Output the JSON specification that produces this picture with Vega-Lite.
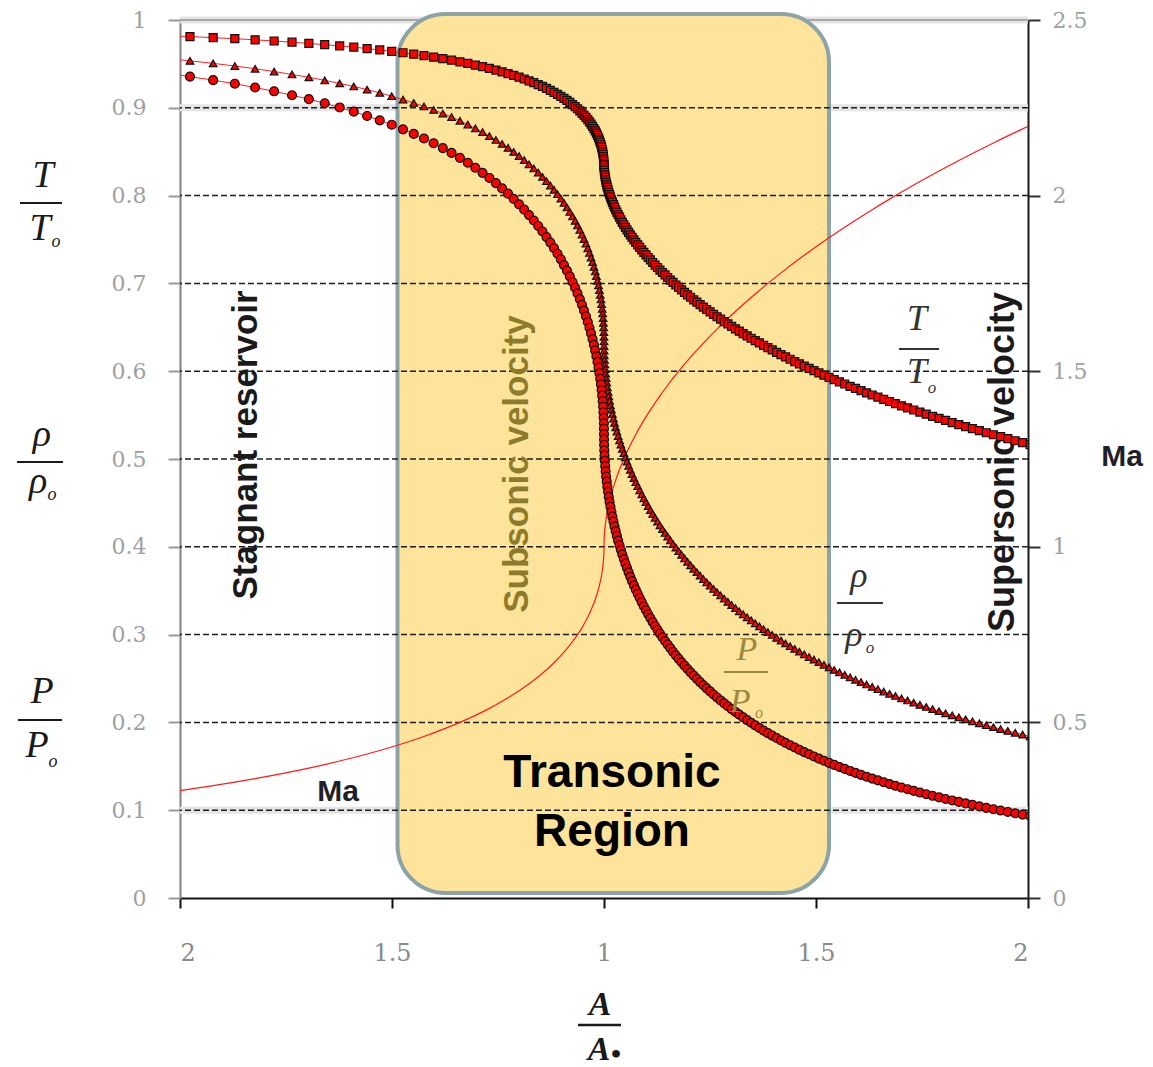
{
  "$schema": "https://vega.github.io/schema/vega-lite/v6.json",
  "width": 848,
  "height": 878,
  "autosize": "none",
  "padding": {"left": 180, "top": 20, "right": 125, "bottom": 169},
  "background": "#ffffff",
  "config": {"view": {"stroke": null}},
  "datasets": {
    "flow": [
      {"M":0.30,"x":-0.0351,"T":0.9823,"r":0.9564,"p":0.9395},
      {"M":0.31,"x":0.0235,"T":0.9811,"r":0.9535,"p":0.9355},
      {"M":0.32,"x":0.0782,"T":0.9799,"r":0.9506,"p":0.9315},
      {"M":0.33,"x":0.1293,"T":0.9787,"r":0.9476,"p":0.9274},
      {"M":0.34,"x":0.1771,"T":0.9774,"r":0.9445,"p":0.9231},
      {"M":0.35,"x":0.2220,"T":0.9761,"r":0.9413,"p":0.9188},
      {"M":0.36,"x":0.2642,"T":0.9747,"r":0.9380,"p":0.9143},
      {"M":0.37,"x":0.3039,"T":0.9733,"r":0.9347,"p":0.9098},
      {"M":0.38,"x":0.3413,"T":0.9719,"r":0.9313,"p":0.9052},
      {"M":0.39,"x":0.3766,"T":0.9705,"r":0.9278,"p":0.9004},
      {"M":0.40,"x":0.4099,"T":0.9690,"r":0.9243,"p":0.8956},
      {"M":0.41,"x":0.4413,"T":0.9675,"r":0.9207,"p":0.8907},
      {"M":0.42,"x":0.4711,"T":0.9659,"r":0.9170,"p":0.8857},
      {"M":0.43,"x":0.4993,"T":0.9643,"r":0.9132,"p":0.8807},
      {"M":0.44,"x":0.5260,"T":0.9627,"r":0.9094,"p":0.8755},
      {"M":0.45,"x":0.5513,"T":0.9611,"r":0.9055,"p":0.8703},
      {"M":0.46,"x":0.5754,"T":0.9594,"r":0.9016,"p":0.8650},
      {"M":0.47,"x":0.5982,"T":0.9577,"r":0.8976,"p":0.8596},
      {"M":0.48,"x":0.6199,"T":0.9560,"r":0.8935,"p":0.8541},
      {"M":0.49,"x":0.6405,"T":0.9542,"r":0.8894,"p":0.8486},
      {"M":0.50,"x":0.6602,"T":0.9524,"r":0.8852,"p":0.8430},
      {"M":0.51,"x":0.6788,"T":0.9506,"r":0.8809,"p":0.8374},
      {"M":0.52,"x":0.6966,"T":0.9487,"r":0.8766,"p":0.8317},
      {"M":0.53,"x":0.7136,"T":0.9468,"r":0.8723,"p":0.8259},
      {"M":0.54,"x":0.7297,"T":0.9449,"r":0.8679,"p":0.8201},
      {"M":0.55,"x":0.7451,"T":0.9430,"r":0.8634,"p":0.8142},
      {"M":0.56,"x":0.7597,"T":0.9410,"r":0.8589,"p":0.8082},
      {"M":0.57,"x":0.7737,"T":0.9390,"r":0.8544,"p":0.8022},
      {"M":0.58,"x":0.7870,"T":0.9370,"r":0.8498,"p":0.7962},
      {"M":0.59,"x":0.7997,"T":0.9349,"r":0.8451,"p":0.7901},
      {"M":0.60,"x":0.8118,"T":0.9328,"r":0.8405,"p":0.7840},
      {"M":0.61,"x":0.8233,"T":0.9307,"r":0.8357,"p":0.7778},
      {"M":0.62,"x":0.8344,"T":0.9286,"r":0.8310,"p":0.7716},
      {"M":0.63,"x":0.8449,"T":0.9265,"r":0.8262,"p":0.7654},
      {"M":0.64,"x":0.8549,"T":0.9243,"r":0.8213,"p":0.7591},
      {"M":0.65,"x":0.8644,"T":0.9221,"r":0.8164,"p":0.7528},
      {"M":0.66,"x":0.8735,"T":0.9199,"r":0.8115,"p":0.7465},
      {"M":0.67,"x":0.8821,"T":0.9176,"r":0.8066,"p":0.7401},
      {"M":0.68,"x":0.8904,"T":0.9153,"r":0.8016,"p":0.7338},
      {"M":0.69,"x":0.8982,"T":0.9131,"r":0.7966,"p":0.7274},
      {"M":0.70,"x":0.9056,"T":0.9107,"r":0.7916,"p":0.7209},
      {"M":0.71,"x":0.9127,"T":0.9084,"r":0.7865,"p":0.7145},
      {"M":0.72,"x":0.9194,"T":0.9061,"r":0.7814,"p":0.7080},
      {"M":0.73,"x":0.9258,"T":0.9037,"r":0.7763,"p":0.7016},
      {"M":0.74,"x":0.9319,"T":0.9013,"r":0.7712,"p":0.6951},
      {"M":0.75,"x":0.9376,"T":0.8989,"r":0.7660,"p":0.6886},
      {"M":0.76,"x":0.9430,"T":0.8964,"r":0.7609,"p":0.6821},
      {"M":0.77,"x":0.9481,"T":0.8940,"r":0.7557,"p":0.6756},
      {"M":0.78,"x":0.9529,"T":0.8915,"r":0.7505,"p":0.6690},
      {"M":0.79,"x":0.9575,"T":0.8890,"r":0.7452,"p":0.6625},
      {"M":0.80,"x":0.9618,"T":0.8865,"r":0.7400,"p":0.6560},
      {"M":0.81,"x":0.9658,"T":0.8840,"r":0.7347,"p":0.6495},
      {"M":0.82,"x":0.9695,"T":0.8815,"r":0.7295,"p":0.6430},
      {"M":0.83,"x":0.9730,"T":0.8789,"r":0.7242,"p":0.6365},
      {"M":0.84,"x":0.9763,"T":0.8763,"r":0.7189,"p":0.6300},
      {"M":0.85,"x":0.9793,"T":0.8737,"r":0.7136,"p":0.6235},
      {"M":0.86,"x":0.9821,"T":0.8711,"r":0.7083,"p":0.6170},
      {"M":0.87,"x":0.9847,"T":0.8685,"r":0.7030,"p":0.6106},
      {"M":0.88,"x":0.9871,"T":0.8659,"r":0.6977,"p":0.6041},
      {"M":0.89,"x":0.9892,"T":0.8632,"r":0.6924,"p":0.5977},
      {"M":0.90,"x":0.9911,"T":0.8606,"r":0.6870,"p":0.5913},
      {"M":0.91,"x":0.9929,"T":0.8579,"r":0.6817,"p":0.5849},
      {"M":0.92,"x":0.9944,"T":0.8552,"r":0.6764,"p":0.5785},
      {"M":0.93,"x":0.9957,"T":0.8525,"r":0.6711,"p":0.5721},
      {"M":0.94,"x":0.9969,"T":0.8498,"r":0.6658,"p":0.5658},
      {"M":0.95,"x":0.9979,"T":0.8471,"r":0.6604,"p":0.5595},
      {"M":0.96,"x":0.9986,"T":0.8444,"r":0.6551,"p":0.5532},
      {"M":0.97,"x":0.9992,"T":0.8416,"r":0.6498,"p":0.5469},
      {"M":0.98,"x":0.9997,"T":0.8389,"r":0.6445,"p":0.5407},
      {"M":0.99,"x":0.9999,"T":0.8361,"r":0.6392,"p":0.5345},
      {"M":1.00,"x":1.0000,"T":0.8333,"r":0.6339,"p":0.5283},
      {"M":1.01,"x":1.0001,"T":0.8346,"r":0.6287,"p":0.5221},
      {"M":1.02,"x":1.0003,"T":0.8319,"r":0.6234,"p":0.5160},
      {"M":1.03,"x":1.0007,"T":0.8291,"r":0.6181,"p":0.5099},
      {"M":1.04,"x":1.0013,"T":0.8263,"r":0.6129,"p":0.5039},
      {"M":1.05,"x":1.0020,"T":0.8235,"r":0.6077,"p":0.4979},
      {"M":1.06,"x":1.0029,"T":0.8207,"r":0.6024,"p":0.4919},
      {"M":1.07,"x":1.0039,"T":0.8179,"r":0.5972,"p":0.4860},
      {"M":1.08,"x":1.0051,"T":0.8151,"r":0.5920,"p":0.4800},
      {"M":1.09,"x":1.0065,"T":0.8123,"r":0.5869,"p":0.4742},
      {"M":1.10,"x":1.0079,"T":0.8096,"r":0.5817,"p":0.4684},
      {"M":1.11,"x":1.0096,"T":0.8067,"r":0.5766,"p":0.4626},
      {"M":1.12,"x":1.0113,"T":0.8038,"r":0.5714,"p":0.4568},
      {"M":1.13,"x":1.0132,"T":0.8011,"r":0.5663,"p":0.4511},
      {"M":1.14,"x":1.0153,"T":0.7982,"r":0.5612,"p":0.4455},
      {"M":1.15,"x":1.0175,"T":0.7953,"r":0.5562,"p":0.4398},
      {"M":1.16,"x":1.0198,"T":0.7925,"r":0.5511,"p":0.4343},
      {"M":1.17,"x":1.0223,"T":0.7897,"r":0.5461,"p":0.4287},
      {"M":1.18,"x":1.0248,"T":0.7868,"r":0.5411,"p":0.4232},
      {"M":1.19,"x":1.0276,"T":0.7840,"r":0.5361,"p":0.4178},
      {"M":1.20,"x":1.0304,"T":0.7811,"r":0.5311,"p":0.4124},
      {"M":1.21,"x":1.0334,"T":0.7782,"r":0.5262,"p":0.4070},
      {"M":1.22,"x":1.0366,"T":0.7754,"r":0.5213,"p":0.4017},
      {"M":1.23,"x":1.0398,"T":0.7725,"r":0.5164,"p":0.3965},
      {"M":1.24,"x":1.0432,"T":0.7696,"r":0.5115,"p":0.3912},
      {"M":1.25,"x":1.0468,"T":0.7668,"r":0.5067,"p":0.3861},
      {"M":1.26,"x":1.0504,"T":0.7639,"r":0.5019,"p":0.3809},
      {"M":1.27,"x":1.0542,"T":0.7610,"r":0.4971,"p":0.3759},
      {"M":1.28,"x":1.0581,"T":0.7582,"r":0.4923,"p":0.3708},
      {"M":1.29,"x":1.0621,"T":0.7553,"r":0.4876,"p":0.3658},
      {"M":1.30,"x":1.0663,"T":0.7525,"r":0.4829,"p":0.3609},
      {"M":1.31,"x":1.0706,"T":0.7496,"r":0.4782,"p":0.3560},
      {"M":1.32,"x":1.0750,"T":0.7467,"r":0.4736,"p":0.3512},
      {"M":1.33,"x":1.0796,"T":0.7439,"r":0.4690,"p":0.3464},
      {"M":1.34,"x":1.0843,"T":0.7410,"r":0.4644,"p":0.3417},
      {"M":1.35,"x":1.0890,"T":0.7381,"r":0.4598,"p":0.3370},
      {"M":1.36,"x":1.0940,"T":0.7353,"r":0.4553,"p":0.3323},
      {"M":1.37,"x":1.0990,"T":0.7324,"r":0.4508,"p":0.3277},
      {"M":1.38,"x":1.1042,"T":0.7295,"r":0.4463,"p":0.3232},
      {"M":1.39,"x":1.1095,"T":0.7267,"r":0.4418,"p":0.3187},
      {"M":1.40,"x":1.1149,"T":0.7238,"r":0.4374,"p":0.3142},
      {"M":1.41,"x":1.1205,"T":0.7209,"r":0.4330,"p":0.3098},
      {"M":1.42,"x":1.1262,"T":0.7181,"r":0.4287,"p":0.3055},
      {"M":1.43,"x":1.1320,"T":0.7152,"r":0.4244,"p":0.3012},
      {"M":1.44,"x":1.1379,"T":0.7124,"r":0.4201,"p":0.2969},
      {"M":1.45,"x":1.1440,"T":0.7096,"r":0.4158,"p":0.2927},
      {"M":1.46,"x":1.1502,"T":0.7067,"r":0.4116,"p":0.2886},
      {"M":1.47,"x":1.1565,"T":0.7038,"r":0.4074,"p":0.2845},
      {"M":1.48,"x":1.1629,"T":0.7011,"r":0.4032,"p":0.2804},
      {"M":1.49,"x":1.1695,"T":0.6982,"r":0.3991,"p":0.2764},
      {"M":1.50,"x":1.1762,"T":0.6955,"r":0.3950,"p":0.2724},
      {"M":1.51,"x":1.1830,"T":0.6926,"r":0.3909,"p":0.2685},
      {"M":1.52,"x":1.1899,"T":0.6898,"r":0.3869,"p":0.2646},
      {"M":1.53,"x":1.1970,"T":0.6870,"r":0.3829,"p":0.2608},
      {"M":1.54,"x":1.2042,"T":0.6842,"r":0.3789,"p":0.2570},
      {"M":1.55,"x":1.2116,"T":0.6813,"r":0.3750,"p":0.2533},
      {"M":1.56,"x":1.2191,"T":0.6786,"r":0.3711,"p":0.2496},
      {"M":1.57,"x":1.2267,"T":0.6758,"r":0.3672,"p":0.2459},
      {"M":1.58,"x":1.2344,"T":0.6730,"r":0.3633,"p":0.2423},
      {"M":1.59,"x":1.2422,"T":0.6703,"r":0.3595,"p":0.2388},
      {"M":1.60,"x":1.2502,"T":0.6675,"r":0.3557,"p":0.2353},
      {"M":1.61,"x":1.2584,"T":0.6647,"r":0.3520,"p":0.2318},
      {"M":1.62,"x":1.2666,"T":0.6620,"r":0.3483,"p":0.2284},
      {"M":1.63,"x":1.2750,"T":0.6592,"r":0.3446,"p":0.2250},
      {"M":1.64,"x":1.2836,"T":0.6564,"r":0.3409,"p":0.2217},
      {"M":1.65,"x":1.2922,"T":0.6538,"r":0.3373,"p":0.2184},
      {"M":1.66,"x":1.3010,"T":0.6510,"r":0.3337,"p":0.2152},
      {"M":1.67,"x":1.3100,"T":0.6482,"r":0.3302,"p":0.2119},
      {"M":1.68,"x":1.3190,"T":0.6456,"r":0.3266,"p":0.2088},
      {"M":1.69,"x":1.3283,"T":0.6428,"r":0.3232,"p":0.2057},
      {"M":1.70,"x":1.3376,"T":0.6402,"r":0.3197,"p":0.2026},
      {"M":1.71,"x":1.3471,"T":0.6375,"r":0.3163,"p":0.1996},
      {"M":1.72,"x":1.3567,"T":0.6348,"r":0.3129,"p":0.1966},
      {"M":1.73,"x":1.3665,"T":0.6322,"r":0.3095,"p":0.1936},
      {"M":1.74,"x":1.3764,"T":0.6295,"r":0.3062,"p":0.1907},
      {"M":1.75,"x":1.3865,"T":0.6268,"r":0.3029,"p":0.1878},
      {"M":1.76,"x":1.3967,"T":0.6242,"r":0.2996,"p":0.1850},
      {"M":1.77,"x":1.4071,"T":0.6215,"r":0.2964,"p":0.1822},
      {"M":1.78,"x":1.4175,"T":0.6188,"r":0.2932,"p":0.1794},
      {"M":1.79,"x":1.4282,"T":0.6163,"r":0.2900,"p":0.1767},
      {"M":1.80,"x":1.4390,"T":0.6136,"r":0.2868,"p":0.1740},
      {"M":1.81,"x":1.4499,"T":0.6109,"r":0.2837,"p":0.1714},
      {"M":1.82,"x":1.4610,"T":0.6084,"r":0.2806,"p":0.1688},
      {"M":1.83,"x":1.4723,"T":0.6058,"r":0.2776,"p":0.1662},
      {"M":1.84,"x":1.4837,"T":0.6032,"r":0.2745,"p":0.1637},
      {"M":1.85,"x":1.4952,"T":0.6006,"r":0.2715,"p":0.1612},
      {"M":1.86,"x":1.5069,"T":0.5980,"r":0.2686,"p":0.1587},
      {"M":1.87,"x":1.5188,"T":0.5955,"r":0.2656,"p":0.1563},
      {"M":1.88,"x":1.5308,"T":0.5930,"r":0.2627,"p":0.1539},
      {"M":1.89,"x":1.5429,"T":0.5904,"r":0.2598,"p":0.1516},
      {"M":1.90,"x":1.5553,"T":0.5879,"r":0.2570,"p":0.1492},
      {"M":1.91,"x":1.5678,"T":0.5854,"r":0.2542,"p":0.1470},
      {"M":1.92,"x":1.5804,"T":0.5828,"r":0.2514,"p":0.1447},
      {"M":1.93,"x":1.5932,"T":0.5804,"r":0.2486,"p":0.1425},
      {"M":1.94,"x":1.6062,"T":0.5778,"r":0.2459,"p":0.1403},
      {"M":1.95,"x":1.6193,"T":0.5753,"r":0.2432,"p":0.1381},
      {"M":1.96,"x":1.6326,"T":0.5729,"r":0.2405,"p":0.1360},
      {"M":1.97,"x":1.6461,"T":0.5704,"r":0.2378,"p":0.1339},
      {"M":1.98,"x":1.6597,"T":0.5679,"r":0.2352,"p":0.1318},
      {"M":1.99,"x":1.6735,"T":0.5655,"r":0.2326,"p":0.1298},
      {"M":2.00,"x":1.6875,"T":0.5631,"r":0.2301,"p":0.1278},
      {"M":2.01,"x":1.7017,"T":0.5606,"r":0.2275,"p":0.1258},
      {"M":2.02,"x":1.7160,"T":0.5582,"r":0.2250,"p":0.1239},
      {"M":2.03,"x":1.7305,"T":0.5558,"r":0.2225,"p":0.1220},
      {"M":2.04,"x":1.7451,"T":0.5534,"r":0.2200,"p":0.1201},
      {"M":2.05,"x":1.7600,"T":0.5510,"r":0.2176,"p":0.1182},
      {"M":2.06,"x":1.7750,"T":0.5486,"r":0.2152,"p":0.1164},
      {"M":2.07,"x":1.7902,"T":0.5462,"r":0.2128,"p":0.1146},
      {"M":2.08,"x":1.8056,"T":0.5439,"r":0.2104,"p":0.1128},
      {"M":2.09,"x":1.8212,"T":0.5415,"r":0.2081,"p":0.1111},
      {"M":2.10,"x":1.8369,"T":0.5392,"r":0.2058,"p":0.1094},
      {"M":2.11,"x":1.8529,"T":0.5369,"r":0.2035,"p":0.1077},
      {"M":2.12,"x":1.8690,"T":0.5345,"r":0.2013,"p":0.1060},
      {"M":2.13,"x":1.8853,"T":0.5323,"r":0.1990,"p":0.1043},
      {"M":2.14,"x":1.9018,"T":0.5299,"r":0.1968,"p":0.1027},
      {"M":2.15,"x":1.9185,"T":0.5276,"r":0.1946,"p":0.1011},
      {"M":2.16,"x":1.9354,"T":0.5254,"r":0.1925,"p":0.0996},
      {"M":2.17,"x":1.9525,"T":0.5231,"r":0.1903,"p":0.0980},
      {"M":2.18,"x":1.9698,"T":0.5208,"r":0.1882,"p":0.0965},
      {"M":2.19,"x":1.9873,"T":0.5186,"r":0.1861,"p":0.0950},
      {"M":2.20,"x":2.0050,"T":0.5163,"r":0.1841,"p":0.0935}
    ],
    "grid": [{"g":0.1},{"g":0.2},{"g":0.3},{"g":0.4},{"g":0.5},{"g":0.6},{"g":0.7},{"g":0.8},{"g":0.9}],
    "bands": [{"g":0.1},{"g":0.9},{"g":1}],
    "one": [{}]
  },
  "layer": [
    {
      "data": {"name": "bands"},
      "mark": {"type": "rule", "stroke": "#e4e4e4", "strokeWidth": 7},
      "encoding": {
        "y": {"field": "g", "type": "quantitative", "scale": {"domain": [0, 1]},
          "axis": {"orient": "left", "values": [0,0.1,0.2,0.3,0.4,0.5,0.6,0.7,0.8,0.9,1], "format": "~g", "title": null, "grid": false,
            "domainColor": "#808080", "domainWidth": 2, "tickColor": "#9a9a9a", "tickSize": 12, "tickWidth": 2,
            "labelFont": "DejaVu Serif", "labelFontSize": 22, "labelColor": "#a0a0a0", "labelPadding": 22}}
      }
    },
    {
      "data": {"name": "one"},
      "mark": {"type": "rule", "stroke": "#a8a8a8", "strokeWidth": 2},
      "encoding": {"y": {"datum": 1, "scale": {"domain": [0, 1]}, "axis": null}}
    },
    {
      "data": {"name": "one"},
      "mark": {"type": "rect", "fill": "#fde49a", "stroke": "#8ca4a8", "strokeWidth": 4, "cornerRadius": 48},
      "encoding": {
        "x": {"datum": 0.513, "scale": {"domain": [0, 2]}, "axis": {"title": null}},
        "x2": {"datum": 1.5307},
        "y": {"datum": 0.0057, "scale": {"domain": [0, 1]}, "axis": null},
        "y2": {"datum": 1.0068}
      }
    },
    {
      "data": {"name": "grid"},
      "mark": {"type": "rule", "stroke": "#1e1e1e", "strokeWidth": 1.5, "strokeDash": [6, 3]},
      "encoding": {"y": {"field": "g", "type": "quantitative", "scale": {"domain": [0, 1]}, "axis": null}}
    },
    {
      "data": {"name": "one"},
      "mark": {"type": "text", "text": "Stagnant reservoir", "angle": 270, "font": "Liberation Sans", "fontWeight": "bold", "fontSize": 35, "fill": "#1a1a1a", "align": "center", "baseline": "middle"},
      "encoding": {"x": {"datum": 0.1557, "axis": {"title": null}}, "y": {"datum": 0.516, "scale": {"domain": [0, 1]}, "axis": null}}
    },
    {
      "data": {"name": "one"},
      "mark": {"type": "text", "text": "Subsonic velocity", "angle": 270, "font": "Liberation Sans", "fontWeight": "bold", "fontSize": 35, "fill": "#8c7b2a", "align": "center", "baseline": "middle"},
      "encoding": {"x": {"datum": 0.795, "axis": {"title": null}}, "y": {"datum": 0.4943, "scale": {"domain": [0, 1]}, "axis": null}}
    },
    {
      "data": {"name": "one"},
      "mark": {"type": "text", "text": "Supersonic velocity", "angle": 270, "font": "Liberation Sans", "fontWeight": "bold", "fontSize": 36, "fill": "#1a1a1a", "align": "center", "baseline": "middle"},
      "encoding": {"x": {"datum": 1.941, "axis": {"title": null}}, "y": {"datum": 0.4966, "scale": {"domain": [0, 1]}, "axis": null}}
    },
    {
      "data": {"name": "one"},
      "mark": {"type": "text", "text": "Transonic", "font": "Liberation Sans", "fontWeight": "bold", "fontSize": 46, "fill": "#000000", "align": "center", "baseline": "middle"},
      "encoding": {"x": {"datum": 1.0189, "axis": {"title": null}}, "y": {"datum": 0.1424, "scale": {"domain": [0, 1]}, "axis": null}}
    },
    {
      "data": {"name": "one"},
      "mark": {"type": "text", "text": "Region", "font": "Liberation Sans", "fontWeight": "bold", "fontSize": 46, "fill": "#000000", "align": "center", "baseline": "middle"},
      "encoding": {"x": {"datum": 1.0189, "axis": {"title": null}}, "y": {"datum": 0.0752, "scale": {"domain": [0, 1]}, "axis": null}}
    },
    {
      "data": {"name": "one"},
      "mark": {"type": "text", "text": "Ma", "font": "Liberation Sans", "fontWeight": "bold", "fontSize": 30, "fill": "#1f1f2a", "align": "center", "baseline": "middle"},
      "encoding": {"x": {"datum": 0.3726, "axis": {"title": null}}, "y": {"datum": 0.1207, "scale": {"domain": [0, 1]}, "axis": null}}
    },
    {
      "data": {"name": "one"},
      "mark": {"type": "text", "text": "Ma", "font": "Liberation Sans", "fontWeight": "bold", "fontSize": 30, "fill": "#1f1f2a", "align": "center", "baseline": "middle"},
      "encoding": {"x": {"datum": 2.2217, "axis": {"title": null}}, "y": {"datum": 0.5023, "scale": {"domain": [0, 1]}, "axis": null}}
    },
    {
      "data": {"name": "flow"},
      "mark": {"type": "line", "stroke": "#ff1a1a", "strokeWidth": 1.2, "clip": true},
      "encoding": {
        "x": {"field": "x", "type": "quantitative", "scale": {"domain": [0, 2]}, "axis": {"title": null}},
        "y": {"field": "M", "type": "quantitative", "scale": {"domain": [0, 2.5]},
          "axis": {"orient": "right", "values": [0,0.5,1,1.5,2,2.5], "format": "~g", "title": null, "grid": false,
            "domainColor": "#1a1a1a", "domainWidth": 2, "tickColor": "#333333", "tickSize": 12, "tickWidth": 2,
            "labelFont": "DejaVu Serif", "labelFontSize": 22, "labelColor": "#a0a0a0", "labelPadding": 12}},
        "order": {"field": "M", "type": "quantitative"}
      }
    },
    {
      "data": {"name": "flow"},
      "mark": {"type": "line", "stroke": "#ff2020", "strokeWidth": 1, "clip": true},
      "encoding": {
        "x": {"field": "x", "type": "quantitative", "scale": {"domain": [0, 2]},
          "axis": {"orient": "bottom", "values": [0,0.5,1,1.5,2], "labelExpr": "datum.value < 1 ? format(2 - datum.value, '~g') : format(datum.value, '~g')", "title": null, "grid": false,
            "domainColor": "#111111", "domainWidth": 2, "tickColor": "#111111", "tickSize": 10, "tickWidth": 2,
            "labelFont": "DejaVu Serif", "labelFontSize": 24, "labelColor": "#8a8a8a", "labelPadding": 33}},
        "y": {"field": "T", "type": "quantitative", "scale": {"domain": [0, 1]}, "axis": null},
        "order": {"field": "M", "type": "quantitative"}
      }
    },
    {
      "data": {"name": "flow"},
      "mark": {"type": "line", "stroke": "#ff2020", "strokeWidth": 1, "clip": true},
      "encoding": {
        "x": {"field": "x", "type": "quantitative", "axis": {"title": null}},
        "y": {"field": "r", "type": "quantitative", "scale": {"domain": [0, 1]}, "axis": null},
        "order": {"field": "M", "type": "quantitative"}
      }
    },
    {
      "data": {"name": "flow"},
      "mark": {"type": "line", "stroke": "#ff2020", "strokeWidth": 1, "clip": true},
      "encoding": {
        "x": {"field": "x", "type": "quantitative", "axis": {"title": null}},
        "y": {"field": "p", "type": "quantitative", "scale": {"domain": [0, 1]}, "axis": null},
        "order": {"field": "M", "type": "quantitative"}
      }
    },
    {
      "data": {"name": "flow"},
      "mark": {"type": "point", "shape": "square", "size": 64, "filled": true, "fill": "#ff0000", "stroke": "#111111", "strokeWidth": 1.2, "opacity": 1, "clip": true},
      "encoding": {
        "x": {"field": "x", "type": "quantitative", "axis": {"title": null}},
        "y": {"field": "T", "type": "quantitative", "scale": {"domain": [0, 1]}, "axis": null}
      }
    },
    {
      "data": {"name": "flow"},
      "mark": {"type": "point", "shape": "triangle-up", "size": 58, "filled": true, "fill": "#ff0000", "stroke": "#111111", "strokeWidth": 1.2, "opacity": 1, "clip": true},
      "encoding": {
        "x": {"field": "x", "type": "quantitative", "axis": {"title": null}},
        "y": {"field": "r", "type": "quantitative", "scale": {"domain": [0, 1]}, "axis": null}
      }
    },
    {
      "data": {"name": "flow"},
      "mark": {"type": "point", "shape": "circle", "size": 80, "filled": true, "fill": "#ff0000", "stroke": "#111111", "strokeWidth": 1.2, "opacity": 1, "clip": true},
      "encoding": {
        "x": {"field": "x", "type": "quantitative", "axis": {"title": null}},
        "y": {"field": "p", "type": "quantitative", "scale": {"domain": [0, 1]}, "axis": null}
      }
    },

    {"data": {"name": "one"}, "mark": {"type": "text", "text": "T", "font": "Liberation Serif", "fontStyle": "italic", "fontSize": 38, "fill": "#1a1a1a", "align": "center", "baseline": "alphabetic"},
     "encoding": {"x": {"datum": -0.3231, "axis": {"title": null}}, "y": {"datum": 0.8098, "scale": {"domain": [0, 1]}, "axis": null}}},
    {"data": {"name": "one"}, "mark": {"type": "rule", "stroke": "#1a1a1a", "strokeWidth": 2},
     "encoding": {"x": {"datum": -0.3774, "axis": {"title": null}}, "x2": {"datum": -0.2783}, "y": {"datum": 0.7916, "scale": {"domain": [0, 1]}, "axis": null}}},
    {"data": {"name": "one"}, "mark": {"type": "text", "text": "T", "font": "Liberation Serif", "fontStyle": "italic", "fontSize": 38, "fill": "#1a1a1a", "align": "center", "baseline": "alphabetic"},
     "encoding": {"x": {"datum": -0.3302, "axis": {"title": null}}, "y": {"datum": 0.7494, "scale": {"domain": [0, 1]}, "axis": null}}},
    {"data": {"name": "one"}, "mark": {"type": "text", "text": "o", "font": "Liberation Serif", "fontStyle": "italic", "fontSize": 18, "fill": "#1a1a1a", "align": "center", "baseline": "alphabetic"},
     "encoding": {"x": {"datum": -0.2925, "axis": {"title": null}}, "y": {"datum": 0.7415, "scale": {"domain": [0, 1]}, "axis": null}}},

    {"data": {"name": "one"}, "mark": {"type": "text", "text": "ρ", "font": "Liberation Serif", "fontStyle": "italic", "fontSize": 38, "fill": "#1a1a1a", "align": "center", "baseline": "alphabetic"},
     "encoding": {"x": {"datum": -0.3255, "axis": {"title": null}}, "y": {"datum": 0.5148, "scale": {"domain": [0, 1]}, "axis": null}}},
    {"data": {"name": "one"}, "mark": {"type": "rule", "stroke": "#1a1a1a", "strokeWidth": 2},
     "encoding": {"x": {"datum": -0.3844, "axis": {"title": null}}, "x2": {"datum": -0.2759}, "y": {"datum": 0.4966, "scale": {"domain": [0, 1]}, "axis": null}}},
    {"data": {"name": "one"}, "mark": {"type": "text", "text": "ρ", "font": "Liberation Serif", "fontStyle": "italic", "fontSize": 38, "fill": "#1a1a1a", "align": "center", "baseline": "alphabetic"},
     "encoding": {"x": {"datum": -0.3349, "axis": {"title": null}}, "y": {"datum": 0.4613, "scale": {"domain": [0, 1]}, "axis": null}}},
    {"data": {"name": "one"}, "mark": {"type": "text", "text": "o", "font": "Liberation Serif", "fontStyle": "italic", "fontSize": 18, "fill": "#1a1a1a", "align": "center", "baseline": "alphabetic"},
     "encoding": {"x": {"datum": -0.3019, "axis": {"title": null}}, "y": {"datum": 0.4533, "scale": {"domain": [0, 1]}, "axis": null}}},

    {"data": {"name": "one"}, "mark": {"type": "text", "text": "P", "font": "Liberation Serif", "fontStyle": "italic", "fontSize": 38, "fill": "#1a1a1a", "align": "center", "baseline": "alphabetic"},
     "encoding": {"x": {"datum": -0.3255, "axis": {"title": null}}, "y": {"datum": 0.2221, "scale": {"domain": [0, 1]}, "axis": null}}},
    {"data": {"name": "one"}, "mark": {"type": "rule", "stroke": "#1a1a1a", "strokeWidth": 2},
     "encoding": {"x": {"datum": -0.3821, "axis": {"title": null}}, "x2": {"datum": -0.2783}, "y": {"datum": 0.2027, "scale": {"domain": [0, 1]}, "axis": null}}},
    {"data": {"name": "one"}, "mark": {"type": "text", "text": "P", "font": "Liberation Serif", "fontStyle": "italic", "fontSize": 38, "fill": "#1a1a1a", "align": "center", "baseline": "alphabetic"},
     "encoding": {"x": {"datum": -0.3373, "axis": {"title": null}}, "y": {"datum": 0.1606, "scale": {"domain": [0, 1]}, "axis": null}}},
    {"data": {"name": "one"}, "mark": {"type": "text", "text": "o", "font": "Liberation Serif", "fontStyle": "italic", "fontSize": 18, "fill": "#1a1a1a", "align": "center", "baseline": "alphabetic"},
     "encoding": {"x": {"datum": -0.2995, "axis": {"title": null}}, "y": {"datum": 0.1492, "scale": {"domain": [0, 1]}, "axis": null}}},

    {"data": {"name": "one"}, "mark": {"type": "text", "text": "T", "font": "Liberation Serif", "fontStyle": "italic", "fontSize": 36, "fill": "#333333", "align": "center", "baseline": "alphabetic"},
     "encoding": {"x": {"datum": 1.7382, "axis": {"title": null}}, "y": {"datum": 0.6469, "scale": {"domain": [0, 1]}, "axis": null}}},
    {"data": {"name": "one"}, "mark": {"type": "rule", "stroke": "#333333", "strokeWidth": 2},
     "encoding": {"x": {"datum": 1.6958, "axis": {"title": null}}, "x2": {"datum": 1.7901}, "y": {"datum": 0.6253, "scale": {"domain": [0, 1]}, "axis": null}}},
    {"data": {"name": "one"}, "mark": {"type": "text", "text": "T", "font": "Liberation Serif", "fontStyle": "italic", "fontSize": 36, "fill": "#333333", "align": "center", "baseline": "alphabetic"},
     "encoding": {"x": {"datum": 1.7382, "axis": {"title": null}}, "y": {"datum": 0.5866, "scale": {"domain": [0, 1]}, "axis": null}}},
    {"data": {"name": "one"}, "mark": {"type": "text", "text": "o", "font": "Liberation Serif", "fontStyle": "italic", "fontSize": 17, "fill": "#333333", "align": "center", "baseline": "alphabetic"},
     "encoding": {"x": {"datum": 1.7736, "axis": {"title": null}}, "y": {"datum": 0.5752, "scale": {"domain": [0, 1]}, "axis": null}}},

    {"data": {"name": "one"}, "mark": {"type": "text", "text": "ρ", "font": "Liberation Serif", "fontStyle": "italic", "fontSize": 36, "fill": "#333333", "align": "center", "baseline": "alphabetic"},
     "encoding": {"x": {"datum": 1.6014, "axis": {"title": null}}, "y": {"datum": 0.3542, "scale": {"domain": [0, 1]}, "axis": null}}},
    {"data": {"name": "one"}, "mark": {"type": "rule", "stroke": "#333333", "strokeWidth": 2},
     "encoding": {"x": {"datum": 1.5495, "axis": {"title": null}}, "x2": {"datum": 1.658}, "y": {"datum": 0.336, "scale": {"domain": [0, 1]}, "axis": null}}},
    {"data": {"name": "one"}, "mark": {"type": "text", "text": "ρ", "font": "Liberation Serif", "fontStyle": "italic", "fontSize": 36, "fill": "#333333", "align": "center", "baseline": "alphabetic"},
     "encoding": {"x": {"datum": 1.5896, "axis": {"title": null}}, "y": {"datum": 0.287, "scale": {"domain": [0, 1]}, "axis": null}}},
    {"data": {"name": "one"}, "mark": {"type": "text", "text": "o", "font": "Liberation Serif", "fontStyle": "italic", "fontSize": 17, "fill": "#333333", "align": "center", "baseline": "alphabetic"},
     "encoding": {"x": {"datum": 1.6274, "axis": {"title": null}}, "y": {"datum": 0.279, "scale": {"domain": [0, 1]}, "axis": null}}},

    {"data": {"name": "one"}, "mark": {"type": "text", "text": "P", "font": "Liberation Serif", "fontStyle": "italic", "fontSize": 34, "fill": "#9a8a40", "align": "center", "baseline": "alphabetic"},
     "encoding": {"x": {"datum": 1.3373, "axis": {"title": null}}, "y": {"datum": 0.2711, "scale": {"domain": [0, 1]}, "axis": null}}},
    {"data": {"name": "one"}, "mark": {"type": "rule", "stroke": "#9a8a40", "strokeWidth": 2},
     "encoding": {"x": {"datum": 1.283, "axis": {"title": null}}, "x2": {"datum": 1.3868}, "y": {"datum": 0.2574, "scale": {"domain": [0, 1]}, "axis": null}}},
    {"data": {"name": "one"}, "mark": {"type": "text", "text": "P", "font": "Liberation Serif", "fontStyle": "italic", "fontSize": 34, "fill": "#9a8a40", "align": "center", "baseline": "alphabetic"},
     "encoding": {"x": {"datum": 1.3208, "axis": {"title": null}}, "y": {"datum": 0.2118, "scale": {"domain": [0, 1]}, "axis": null}}},
    {"data": {"name": "one"}, "mark": {"type": "text", "text": "o", "font": "Liberation Serif", "fontStyle": "italic", "fontSize": 16, "fill": "#9a8a40", "align": "center", "baseline": "alphabetic"},
     "encoding": {"x": {"datum": 1.3655, "axis": {"title": null}}, "y": {"datum": 0.205, "scale": {"domain": [0, 1]}, "axis": null}}},

    {"data": {"name": "one"}, "mark": {"type": "text", "text": "A", "font": "Liberation Serif", "fontStyle": "italic", "fontWeight": "bold", "fontSize": 34, "fill": "#1a1a1a", "align": "center", "baseline": "alphabetic"},
     "encoding": {"x": {"datum": 0.9906, "axis": {"title": null}}, "y": {"datum": -0.1333, "scale": {"domain": [0, 1]}, "axis": null}}},
    {"data": {"name": "one"}, "mark": {"type": "rule", "stroke": "#1a1a1a", "strokeWidth": 2.5},
     "encoding": {"x": {"datum": 0.9387, "axis": {"title": null}}, "x2": {"datum": 1.0401}, "y": {"datum": -0.1446, "scale": {"domain": [0, 1]}, "axis": null}}},
    {"data": {"name": "one"}, "mark": {"type": "text", "text": "A", "font": "Liberation Serif", "fontStyle": "italic", "fontWeight": "bold", "fontSize": 34, "fill": "#1a1a1a", "align": "center", "baseline": "alphabetic"},
     "encoding": {"x": {"datum": 0.9882, "axis": {"title": null}}, "y": {"datum": -0.1845, "scale": {"domain": [0, 1]}, "axis": null}}},
    {"data": {"name": "one"}, "mark": {"type": "text", "text": "•", "font": "DejaVu Sans", "fontWeight": "bold", "fontSize": 22, "fill": "#1a1a1a", "align": "center", "baseline": "alphabetic"},
     "encoding": {"x": {"datum": 1.0285, "axis": {"title": null}}, "y": {"datum": -0.1868, "scale": {"domain": [0, 1]}, "axis": null}}}
  ],
  "resolve": {"scale": {"y": "independent"}, "axis": {"y": "independent"}}
}
